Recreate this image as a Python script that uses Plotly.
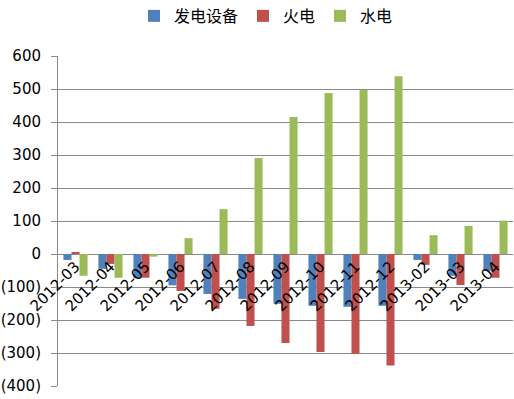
import plotly.graph_objects as go

categories = ["2012-03", "2012-04", "2012-05", "2012-06", "2012-07", "2012-08",
              "2012-09", "2012-10", "2012-11", "2012-12", "2013-02", "2013-03", "2013-04"]
equipment = [-18, -45, -74, -95, -121, -136, -151, -157, -160, -157, -18, -66, -51]
thermal = [4, -30, -72, -112, -166, -218, -270, -297, -302, -338, -33, -94, -72]
hydro = [-66, -72, -8, 48, 136, 291, 415, 488, 497, 539, 57, 85, 101]

series_names = ["发电设备", "火电", "水电"]
colors = ["#4F81BD", "#C0504D", "#9BBB59"]

y_ticks = [-400, -300, -200, -100, 0, 100, 200, 300, 400, 500, 600]
y_ticktext = [f"({abs(v)})" if v < 0 else str(v) for v in y_ticks]

fig = go.Figure()
for name, vals, col in zip(series_names, [equipment, thermal, hydro], colors):
    fig.add_trace(go.Bar(x=categories, y=vals, name=name, marker_color=col,
                         marker_line_width=0))

fig.update_layout(
    width=514, height=399,
    margin=dict(l=58, r=1, t=56, b=13, autoexpand=False),
    paper_bgcolor="white", plot_bgcolor="white",
    barmode="group", bargap=0.31, bargroupgap=0,
    font=dict(family="DejaVu Sans, Noto Sans CJK SC", size=13, color="#000000"),
    legend=dict(orientation="h", x=0.5175, xanchor="center", xref="container",
                y=0.96, yanchor="middle", yref="container",
                font=dict(family="Noto Sans CJK SC", size=16),
                itemwidth=30, tracegroupgap=0),
    showlegend=True,
)
fig.update_xaxes(
    anchor="free", position=0.4, showline=False, ticks="", tickangle=-45,
    showgrid=False, tickfont=dict(size=15), type="category", automargin=False,
)
fig.update_yaxes(
    range=[-400, 600], tickvals=y_ticks, ticktext=y_ticktext,
    showgrid=True, gridcolor="#8A8A8A", gridwidth=1,
    showline=True, linecolor="#8A8A8A", linewidth=1,
    ticks="outside", ticklen=6, tickcolor="#8A8A8A",
    zeroline=False, tickfont=dict(size=15), automargin=False,
    ticklabelstandoff=7,
)

fig.write_html("out.html",
               config={"displayModeBar": False},
               post_script="document.body.style.margin='0';document.body.style.overflow='hidden';")
